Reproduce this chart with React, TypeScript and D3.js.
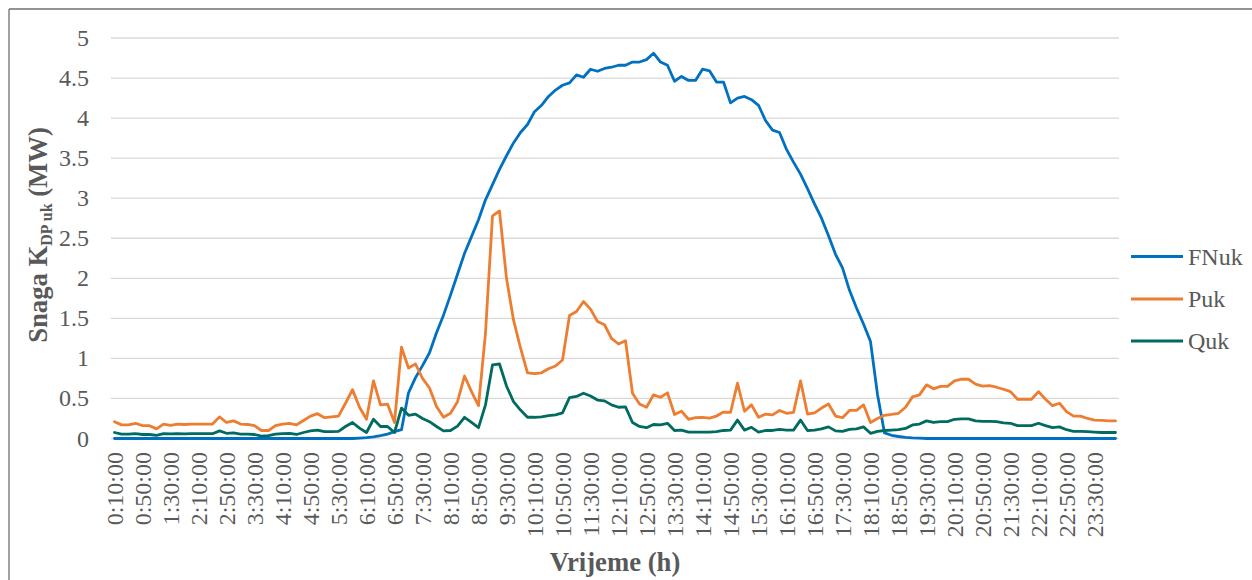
import React from "react";
import * as d3 from "d3";

const W = 1252;
const H = 580;

// categories: every 10 minutes from 0:10:00 to 24:00:00
const categories: string[] = d3.range(1, 145).map((k) => {
  const m = k * 10;
  const h = Math.floor(m / 60);
  const mm = m % 60;
  return `${h}:${mm < 10 ? "0" + mm : mm}:00`;
});

const yTicks = [0, 0.5, 1, 1.5, 2, 2.5, 3, 3.5, 4, 4.5, 5];

const FNuk = [
  0, 0, 0, 0, 0, 0, 0, 0, 0, 0, 0, 0, 0, 0, 0, 0, 0, 0, 0, 0,
  0, 0, 0, 0, 0, 0, 0, 0, 0, 0, 0, 0, 0, 0, 0,
  0.005, 0.01, 0.02, 0.035, 0.055, 0.085, 0.11, 0.57, 0.76, 0.91,
  1.07, 1.32, 1.54, 1.79, 2.05, 2.31, 2.52, 2.73, 2.98, 3.17,
  3.36, 3.53, 3.69, 3.82, 3.92, 4.08, 4.16, 4.27, 4.35, 4.41,
  4.44, 4.54, 4.51, 4.61, 4.585, 4.62, 4.635, 4.66, 4.66, 4.7,
  4.7, 4.73, 4.81, 4.7, 4.66, 4.46, 4.52, 4.47, 4.47, 4.61,
  4.59, 4.45, 4.45, 4.19, 4.25, 4.27, 4.23, 4.16, 3.97, 3.85,
  3.82, 3.61, 3.45, 3.3, 3.12, 2.93, 2.75, 2.53, 2.3, 2.13,
  1.85, 1.63, 1.43, 1.21, 0.55, 0.07, 0.04, 0.025, 0.015, 0.008,
  0.004,
  0, 0, 0, 0, 0, 0, 0, 0, 0, 0, 0, 0, 0, 0, 0, 0, 0, 0, 0, 0,
  0, 0, 0, 0, 0, 0, 0, 0,
];

const Puk = [
  0.21, 0.17, 0.17, 0.19, 0.16, 0.16, 0.12, 0.18, 0.165, 0.18,
  0.175, 0.18, 0.18, 0.18, 0.18, 0.27, 0.2, 0.22, 0.18, 0.175,
  0.16, 0.1, 0.1, 0.16, 0.18, 0.19, 0.17, 0.225, 0.28, 0.31,
  0.26, 0.27, 0.28, 0.44, 0.61, 0.39, 0.24, 0.72, 0.42, 0.43,
  0.2, 1.14, 0.88, 0.93, 0.75, 0.63, 0.4, 0.265, 0.315, 0.46,
  0.78, 0.585, 0.41, 1.32, 2.78, 2.84, 2.0, 1.48, 1.13, 0.82,
  0.81, 0.82, 0.87, 0.905, 0.98, 1.535, 1.585, 1.71, 1.615, 1.46,
  1.42, 1.25, 1.18, 1.22, 0.565, 0.43, 0.39, 0.545, 0.515, 0.57,
  0.3, 0.34, 0.24, 0.26, 0.265, 0.255, 0.28, 0.33, 0.325, 0.69,
  0.34, 0.42, 0.265, 0.305, 0.295, 0.35, 0.315, 0.325, 0.72, 0.305,
  0.32, 0.38, 0.43, 0.28, 0.26, 0.35, 0.35, 0.42, 0.2, 0.25,
  0.29, 0.3, 0.315, 0.39, 0.52, 0.545, 0.67, 0.62, 0.65, 0.65,
  0.72, 0.74, 0.74, 0.68, 0.655, 0.66, 0.64, 0.615, 0.585, 0.49,
  0.49, 0.49, 0.585, 0.49, 0.41, 0.44, 0.335, 0.28, 0.28, 0.25,
  0.23, 0.225, 0.22, 0.22,
];

const Quk = [
  0.075, 0.055, 0.055, 0.06, 0.05, 0.05, 0.04, 0.06, 0.058, 0.06,
  0.058, 0.06, 0.06, 0.06, 0.06, 0.095, 0.065, 0.07, 0.055, 0.055,
  0.05, 0.03, 0.035, 0.055, 0.06, 0.065, 0.05, 0.075, 0.095, 0.105,
  0.085, 0.085, 0.09, 0.15, 0.2, 0.13, 0.075, 0.24, 0.15, 0.15,
  0.075, 0.38, 0.29, 0.305, 0.25, 0.21, 0.15, 0.095, 0.1, 0.155,
  0.265, 0.2, 0.135, 0.42, 0.92, 0.93, 0.655, 0.46, 0.355, 0.265,
  0.265, 0.27, 0.285, 0.295, 0.32, 0.51, 0.525, 0.565, 0.53, 0.48,
  0.47, 0.42, 0.39, 0.395, 0.2, 0.15, 0.135, 0.175, 0.17, 0.19,
  0.1, 0.105, 0.08, 0.08, 0.08, 0.08, 0.085, 0.1, 0.105, 0.23,
  0.105, 0.14, 0.08, 0.1, 0.1, 0.115, 0.105, 0.105, 0.23, 0.1,
  0.105, 0.12, 0.145, 0.095, 0.09, 0.115, 0.12, 0.145, 0.065, 0.09,
  0.1, 0.105, 0.11, 0.125, 0.17, 0.18, 0.22, 0.2, 0.21, 0.21,
  0.24, 0.245, 0.245, 0.22, 0.215, 0.215, 0.21, 0.195, 0.19, 0.16,
  0.16, 0.16, 0.19, 0.16, 0.135, 0.145, 0.11, 0.09, 0.09, 0.085,
  0.08, 0.075, 0.075, 0.075,
];

const seriesNames = ["FNuk", "Puk", "Quk"];
const seriesColors = ["#0070C0", "#ED7D31", "#006B5F"];
const seriesData = [FNuk, Puk, Quk];

const FONT = "'Liberation Serif', 'Times New Roman', serif";
const TEXT = "#595959";

export default function App() {
  const plotL = 111;
  const plotR = 1119;
  const x = d3
    .scaleBand<number>()
    .domain(d3.range(categories.length))
    .range([plotL, plotR])
    .paddingInner(0)
    .paddingOuter(0);
  const cx = (i: number) => (x(i) as number) + x.bandwidth() / 2;
  const y = d3.scaleLinear().domain([0, 5]).range([438.5, 38]);

  const line = d3
    .line<number>()
    .x((_, i) => cx(i))
    .y((d) => y(d));

  const legendY = [256.5, 299, 341];

  return (
    <svg
      width={W}
      height={H}
      style={{ position: "absolute", left: 0, top: 0, background: "#fff" }}
      fontFamily={FONT}
    >
      <rect x={0} y={0} width={W} height={H} fill="#fff" />
      {/* frame (left and top edges visible) */}
      <line x1={9} y1={9} x2={W + 5} y2={9} stroke="#6f6f6f" strokeWidth={1.3} />
      <line x1={9} y1={9} x2={9} y2={H + 5} stroke="#6f6f6f" strokeWidth={1.3} />

      {/* gridlines */}
      {yTicks.map((t) => (
        <line
          key={"g" + t}
          x1={plotL}
          x2={plotR}
          y1={y(t)}
          y2={y(t)}
          stroke="#D9D9D9"
          strokeWidth={1.3}
        />
      ))}

      {/* y tick labels */}
      {yTicks.map((t) => (
        <text
          key={"yt" + t}
          x={89}
          y={y(t) + 8}
          textAnchor="end"
          fontSize={24}
          fill={TEXT}
        >
          {String(t)}
        </text>
      ))}

      {/* x tick labels */}
      {categories.map((c, i) =>
        i % 4 === 0 ? (
          <text
            key={"xt" + i}
            transform={`translate(${cx(i) + 8},452) rotate(-90)`}
            textAnchor="end"
            fontSize={24}
            fill={TEXT}
          >
            {c}
          </text>
        ) : null
      )}

      {/* series */}
      {seriesData.map((d, k) => (
        <path
          key={"s" + k}
          d={line(d) || ""}
          fill="none"
          stroke={seriesColors[k]}
          strokeWidth={2.8}
          strokeLinejoin="round"
          strokeLinecap="round"
        />
      ))}

      {/* legend */}
      {seriesNames.map((n, k) => (
        <g key={"l" + k}>
          <line
            x1={1131}
            x2={1183}
            y1={legendY[k]}
            y2={legendY[k]}
            stroke={seriesColors[k]}
            strokeWidth={2.8}
          />
          <text x={1188} y={legendY[k] + 8} fontSize={24} fill={TEXT}>
            {n}
          </text>
        </g>
      ))}

      {/* axis titles */}
      <text
        x={615}
        y={571}
        textAnchor="middle"
        fontSize={26.7}
        fontWeight="bold"
        fill={TEXT}
      >
        Vrijeme (h)
      </text>
      <text
        transform="translate(47,235) rotate(-90)"
        textAnchor="middle"
        fontSize={26.7}
        fontWeight="bold"
        fill={TEXT}
      >
        <tspan>Snaga K</tspan>
        <tspan fontSize={16} dy={5}>DP uk</tspan>
        <tspan dy={-5}> (MW)</tspan>
      </text>
    </svg>
  );
}
